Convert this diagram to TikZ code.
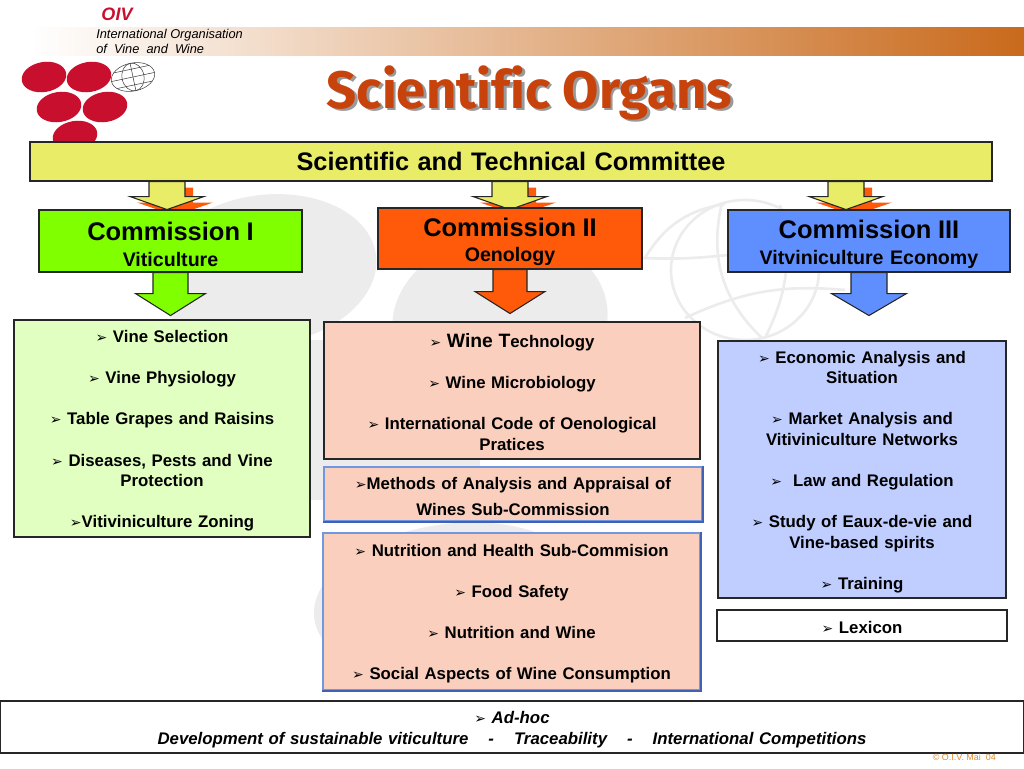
\documentclass[tikz,border=0pt]{standalone}
\usepackage{fontspec}
\setmainfont{Liberation Sans}
\newfontfamily\bulletfont{DejaVu Sans}
\newfontfamily\titlefont[Ligatures=NoCommon]{Fira Sans}
\usetikzlibrary{calc,backgrounds}
\definecolor{pYellow}{HTML}{E9EC66}
\definecolor{pGreen}{HTML}{7FFF00}
\definecolor{pOrange}{HTML}{FF5A09}
\definecolor{pBlue}{HTML}{5F8FFF}
\definecolor{pGreenLight}{HTML}{E0FFC0}
\definecolor{pPink}{HTML}{FBCFBD}
\definecolor{pBlueLight}{HTML}{BFCDFF}
\definecolor{pEdge}{HTML}{7396E0}
\definecolor{pEdgeDark}{HTML}{3F62B5}
\definecolor{pGrape}{HTML}{C8102E}
\definecolor{pTitle}{HTML}{C8420C}
\definecolor{pBar}{HTML}{C96A1C}
\definecolor{pCopy}{HTML}{E08A30}
\definecolor{pMark}{HTML}{ECECEC}
\newcommand{\itm}{{\bulletfont\fontsize{10.5}{10}\selectfont ➢}}
\newcommand{\comhead}[1]{{\rule{0pt}{19pt}\fontsize{19.1}{22}\selectfont #1}}
\newcommand{\shadowtext}[1]{\rlap{\raisebox{-2pt}{\hspace{2pt}\textcolor{black!40}{#1}}}#1}
\tikzset{
    sized/.style 2 args={inner sep=0pt, align=center, minimum width=#1*0.75pt, minimum height=#2*0.75pt, text width=#1*0.75pt-8pt},
    lowered/.style={execute at begin node={\rule{0pt}{12.8pt}}},
    listbox/.style={draw=black!85, line width=0.8pt, lowered, font=\bfseries\fontsize{12.6}{15.4}\selectfont},
    subbox/.style={draw=pEdge, line width=2pt, lowered, font=\bfseries\fontsize{12.6}{15.4}\selectfont},
    headbox/.style={draw=black!85, line width=0.8pt, font=\bfseries\fontsize{14.7}{18}\selectfont},
    pics/blockarrow/.style n args={4}{code={
        \draw[line width=0.8pt, draw=black!85, pic actions] (-#1,0) -- (#1,0) -- (#1,#3) -- (#2,#3) -- (0,#4) -- (-#2,#3) -- (-#1,#3) -- cycle;
    }}
}
\begin{document}
\begin{tikzpicture}[x=0.75pt,y=-0.75pt]
    \useasboundingbox (0,0) rectangle (1024,768);

    \node[sized={962}{39}, headbox, fill=pYellow, font=\bfseries\fontsize{19}{22}\selectfont] (committee) at (511,161.5) {Scientific and Technical Committee};

    \node[sized={263}{62}, headbox, fill=pGreen] (com1) at (170.5,241) {\comhead{Commission I}\\[1pt]Viticulture};
    \node[sized={264}{61}, headbox, fill=pOrange] (com2) at (510,238.5) {\comhead{Commission II}\\[1.3pt]Oenology};
    \node[sized={282}{62}, headbox, fill=pBlue] (com3) at (869,241) {\comhead{Commission III}\\[1pt]Vitviniculture Economy};

    \node[sized={296}{217}, listbox, fill=pGreenLight] (list1) at (162,428.5) {\itm\ Vine Selection\\[15.4pt]\itm\ Vine Physiology\\[15.4pt]\itm\ Table Grapes and Raisins\\[15.4pt]\itm\ Diseases, Pests and Vine\\Protection\\[15.4pt]\itm Vitiviniculture Zoning};
    \node[sized={376}{137}, listbox, fill=pPink] (list2) at (512,390.5) {\itm\ {\fontsize{14.5}{15.4}\selectfont Wine T}echnology\\[15.4pt]\itm\ Wine Microbiology\\[15.4pt]\itm\ International Code of Oenological\\Pratices};
    \node[sized={378}{54}, subbox, fill=pPink] (methods) at (513,494) {\itm Methods of Analysis and Appraisal of\\[3.8pt]Wines Sub-Commission};
    \node[sized={377}{157}, subbox, fill=pPink] (nutrition) at (511.5,611.5) {\itm\ Nutrition and Health Sub-Commision\\[15.4pt]\itm\ Food Safety\\[15.4pt]\itm\ Nutrition and Wine\\[15.4pt]\itm\ Social Aspects of Wine Consumption};
    \node[sized={288}{257}, listbox, fill=pBlueLight] (list3) at (862,469.5) {\itm\ Economic Analysis and\\Situation\\[15.4pt]\itm\ Market Analysis and\\Vitiviniculture Networks\\[15.4pt]\itm\ \ Law and Regulation\\[15.4pt]\itm\ Study of Eaux-de-vie and\\Vine-based spirits\\[15.4pt]\itm\ Training};
    \node[sized={290}{31}, listbox, fill=white] (lexicon) at (862,625.5) {\itm\ Lexicon};
    \node[sized={1024}{52}, listbox, fill=white, font=\bfseries\itshape\fontsize{12.6}{15.4}\selectfont] (adhoc) at (512,727) {\itm\ Ad-hoc\\Development of sustainable viticulture\hspace{15pt}-\hspace{15pt}Traceability\hspace{15pt}-\hspace{15pt}International Competitions};

    \foreach \n in {methods,nutrition}
        \draw[pEdgeDark, line width=1.5pt] (\n.north east) -- (\n.south east) -- (\n.south west);

    \node[anchor=west, inner sep=0pt, font=\itshape\fontsize{9.6}{11.3}\selectfont, align=left] (orgname) at (96,41.5) {International Organisation\\of\ \ Vine\ \ and\ \ Wine};
    \node[inner sep=0pt, text=pGrape, font=\bfseries\itshape\fontsize{13.5}{15}\selectfont] (oiv) at (117,14) {OIV};
    \node[inner sep=0pt, text=pTitle, font=\titlefont\bfseries\fontsize{39.5}{42}\selectfont] (title) at (529.5,94) {\shadowtext{Scientific Organs}};
    \node[anchor=east, inner sep=0pt, text=pCopy, font=\fontsize{6.7}{8}\selectfont] (copyr) at (996,757) {© O.I.V. Mai\ \ 04};

    \begin{scope}[on background layer]
        % watermark
        \fill[pMark, rotate around={8:(265,270)}] (265,270) ellipse (112 and 75);
        \fill[pMark, rotate around={8:(500,320)}] (500,320) ellipse (108 and 85);
        \fill[pMark] (310,340) rectangle (480,500);
        \fill[pMark, rotate around={8:(450,600)}] (450,600) ellipse (137 and 76);
        \begin{scope}[pMark, line width=2pt]
            \draw (745,270) ellipse (74 and 70);
            \draw (645,258) to[bend left=25] (725,204);
            \draw (640,258) to[bend right=4] (728,255);
            \draw (722,203) to[bend right=30] (762,338);
            \draw (780,205) to[bend left=20] (765,338);
            \draw (685,318) to[bend left=15] (845,290);
        \end{scope}
        % top bar
        \shade[left color=white, middle color=pBar!25!white, right color=pBar] (30,27) rectangle (1024,55);
        % logo
        \foreach \cx/\cy in {44/77, 89/77, 59/107, 105/107, 75/136}
            \fill[pGrape, rotate around={10:(\cx,\cy)}] (\cx,\cy) ellipse (22.5 and 15);
        \begin{scope}[black!75, line width=0.4pt, rotate around={12:(133,77)}]
            \draw (133,77) ellipse (22 and 14);
            \draw (133,77) ellipse (11 and 14);
            \draw (133,63) -- (133,91) (111,77) -- (155,77) (115,69) -- (151,69) (115,85) -- (151,85);
        \end{scope}
        % yellow arrows with orange shadow
        \foreach \n/\dx in {com1/-3.5, com2/0, com3/-23}{
            \draw ($(committee.south -| \n.north)+(\dx,0)+(8,6)$) pic[fill=pOrange, draw=none] {blockarrow={18}{38}{15}{28}};
            \draw ($(committee.south -| \n.north)+(\dx,0)$) pic[fill=pYellow] {blockarrow={18}{37}{15}{28}};
        }
        % coloured arrows
        \draw (com1.south) pic[fill=pGreen] {blockarrow={17.5}{35}{21}{43}};
        \draw (com2.south) pic[fill=pOrange] {blockarrow={17}{35}{22}{44}};
        \draw (com3.south) pic[fill=pBlue] {blockarrow={18}{37.5}{21}{43}};
    \end{scope}
\end{tikzpicture}
\end{document}
